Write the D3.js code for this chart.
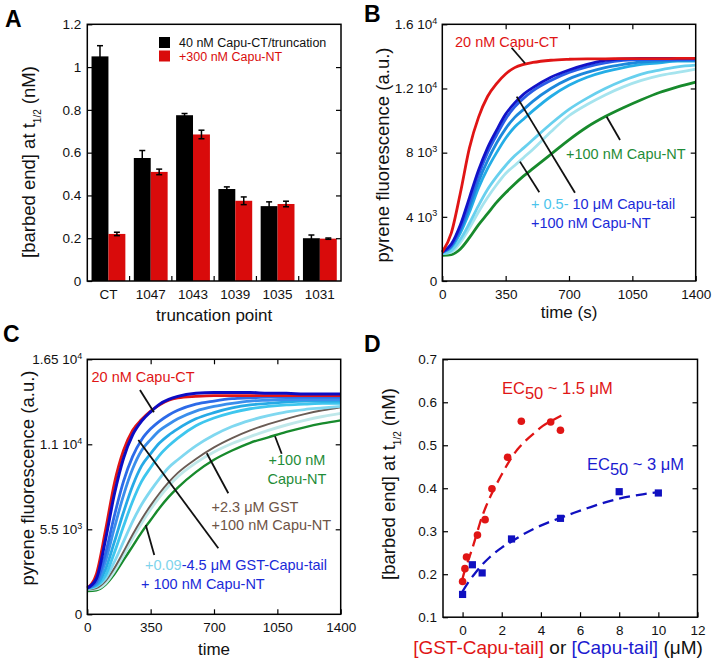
<!DOCTYPE html>
<html><head><meta charset="utf-8">
<script src="https://cdn.jsdelivr.net/npm/d3@7"></script>
<style>
body{margin:0;background:#fff}
svg text{font-family:"Liberation Sans",Arial,Helvetica,sans-serif}
</style>
</head><body>
<svg id="c" width="712" height="659"></svg>
<script>
// ---------------- DATA ----------------
// Panel A
const truncations = ["CT","1047","1043","1039","1035","1031"];
const ctValues  = [1.05, 0.575, 0.775, 0.43, 0.35, 0.20];
const ctErrors  = [0.05, 0.035, 0.008, 0.010, 0.020, 0.015];
const ntValues  = [0.22, 0.51, 0.685, 0.375, 0.36, 0.198];
const ntErrors  = [0.008, 0.013, 0.020, 0.018, 0.013, 0.003];
const yTicksA = [0,0.2,0.4,0.6,0.8,1,1.2];
const yTickLabelsA = ["0","0.2","0.4","0.6","0.8","1","1.2"];

// Panel B (time in s, pyrene fluorescence a.u.)
const timeB = [0,50,100,150,200,250,300,350,400,450,500,600,700,800,900,1000,1100,1200,1300,1400];
const redB    = [1800,3000,5500,8300,10200,11500,12300,12900,13300,13500,13620,13760,13820,13850,13850,13860,13860,13860,13870,13880];
const tail10B = [1800,2300,3500,5200,6900,8300,9400,10400,11100,11650,12050,12700,13150,13500,13750,13850,13880,13880,13880,13880];
const tail6B  = [1800,2200,3300,4900,6600,8000,9100,10100,10850,11400,11850,12500,13000,13350,13600,13750,13800,13800,13800,13800];
const tail4B  = [1800,2200,3200,4600,6200,7500,8600,9500,10200,10700,11200,12000,12600,13000,13300,13500,13650,13700,13750,13750];
const tail2B  = [1800,2100,3000,4300,5800,7000,8000,8900,9600,10100,10600,11500,12200,12700,13050,13300,13500,13600,13700,13700];
const tail1B  = [1700,1900,2600,3600,4700,5700,6500,7200,7800,8300,8800,9800,10700,11400,12000,12500,12900,13150,13350,13450];
const tail05B = [1700,1800,2400,3300,4300,5200,6000,6700,7200,7700,8200,9300,10300,11000,11600,12100,12500,12800,13000,13200];
const greenB  = [1600,1650,2000,2700,3500,4200,4900,5500,6050,6550,7000,7900,8800,9600,10250,10800,11300,11750,12100,12400];
const yTicksB = [0,4000,8000,12000,16000];
const yTickLabelsB = [["0",""],["4 10","3"],["8 10","3"],["1.2 10","4"],["1.6 10","4"]];
const xTicksTime = [0,350,700,1050,1400];

// Panel C
const timeC = [0,50,100,150,200,250,300,350,400,450,500,600,700,800,900,1000,1100,1200,1300,1400];
const redC    = [1700,2600,5400,8500,10600,11900,12600,13150,13550,13850,14000,14100,14150,14150,14150,14150,14150,14150,14150,14150];
const gst45C  = [1700,2300,4800,7800,10100,11600,12500,13100,13600,13900,14100,14300,14350,14350,14350,14300,14300,14250,14250,14250];
const gst2C   = [1700,2100,3900,6400,8600,10200,11300,12000,12500,12900,13200,13600,13800,13950,14000,14050,14050,14050,14050,14050];
const gst1C   = [1700,2000,3400,5600,7700,9400,10600,11300,11900,12300,12650,13150,13450,13650,13800,13850,13900,13900,13900,13900];
const gst05C  = [1700,1900,2900,4700,6600,8300,9600,10400,11100,11600,12000,12650,13050,13350,13550,13650,13750,13800,13800,13800];
const gst03C  = [1700,1850,2500,4000,5700,7300,8600,9500,10300,10900,11400,12200,12700,13050,13300,13450,13550,13600,13650,13650];
const gst02C  = [1650,1800,2300,3400,4700,6000,7100,8000,8800,9500,10000,10900,11600,12150,12550,12850,13100,13250,13350,13450];
const gstOnlyC= [1600,1700,2150,3000,4050,5150,6150,7050,7850,8550,9150,10050,10800,11400,11900,12300,12650,12950,13200,13400];
const gst009C = [1600,1650,2000,2800,3800,4900,5900,6800,7600,8300,8900,9800,10500,11050,11500,11900,12250,12550,12800,13000];
const greenC  = [1500,1550,1900,2600,3500,4400,5300,6100,6900,7600,8200,9200,10000,10600,11100,11450,11800,12100,12350,12550];
const yTicksC = [0,5500,11000,16500];
const yTickLabelsC = [["0",""],["5.5 10","3"],["1.1 10","4"],["1.65 10","4"]];

// Panel D
const gstTailConc = [0,0.12,0.2,0.76,1.15,1.5,2.3,3,4.5,5];
const gstTailBE   = [0.183,0.213,0.240,0.291,0.327,0.399,0.472,0.556,0.554,0.535];
const tailConc = [0,0.5,1,2.5,5,8,10];
const tailBE   = [0.153,0.222,0.203,0.282,0.330,0.392,0.389];
const redFitX = [0,0.12,0.25,0.46,0.7,0.88,1.2,1.56,2,2.32,2.8,3.25,3.7,4.1,4.6,5.04];
const redFitY = [0.19,0.21,0.227,0.255,0.29,0.318,0.358,0.394,0.432,0.458,0.49,0.512,0.53,0.545,0.558,0.569];
const blueFitX = [0,0.3,0.6,1,1.4,2,2.5,3,3.7,4.3,5,5.7,6.4,7.2,8,9.2,10];
const blueFitY = [0.16,0.182,0.2,0.222,0.24,0.262,0.276,0.29,0.307,0.319,0.331,0.343,0.354,0.366,0.376,0.386,0.391];
const yTicksD = [0.1,0.2,0.3,0.4,0.5,0.6,0.7];
const yTickLabelsD = ["0.1","0.2","0.3","0.4","0.5","0.6","0.7"];
const xTicksD = [0,2,4,6,8,10,12];
const xTickLabelsD = ["0","2","4","6","8","10","12"];

// ---------------- DRAW ----------------
const svg = d3.select("#c");
const TICK = 5, TFS = "13.5px";

function clean(g){ g.select(".domain").remove(); g.selectAll("text").attr("font-size",TFS).attr("fill","#111").attr("font-family",null); g.selectAll(".tick line").attr("stroke","#000").attr("stroke-width",1.2); }
function frame(x0,x1,y0,y1){ svg.append("rect").attr("x",x0).attr("y",y0).attr("width",x1-x0).attr("height",y1-y0).attr("fill","none").attr("stroke","#000").attr("stroke-width",1.5); }
function supTicks(g, labels){
  g.selectAll(".tick text").each(function(d,i){
    const t = d3.select(this); t.text(null);
    t.append("tspan").text(labels[i][0]);
    if(labels[i][1]) t.append("tspan").attr("dy","-0.6em").attr("font-size","9px").text(labels[i][1]);
  });
}
function ylabel(x, cy, parts){
  const t = svg.append("text").attr("transform",`translate(${x},${cy}) rotate(-90)`).attr("text-anchor","middle").attr("font-size","18.5px").attr("fill","#111");
  parts.forEach(p=>{ const s=t.append("tspan").text(p.t); if(p.fs) s.attr("font-size",p.fs); if(p.dy) s.attr("dy",p.dy); if(p.fill) s.attr("fill",p.fill); });
}
function letter(s,x,y){ svg.append("text").attr("x",x).attr("y",y).attr("font-size","23px").attr("font-weight","bold").text(s); }
function ptr(x1,y1,x2,y2){ svg.append("line").attr("x1",x1).attr("y1",y1).attr("x2",x2).attr("y2",y2).attr("stroke","#111").attr("stroke-width",1.8); }
function label(x,y,parts,fs,anchor){
  const t = svg.append("text").attr("x",x).attr("y",y).attr("font-size",fs||"14.5px").attr("text-anchor",anchor||"start");
  parts.forEach(p=>{ const s=t.append("tspan").text(p.t).attr("fill",p.fill||"#111"); if(p.fs) s.attr("font-size",p.fs); if(p.dy) s.attr("dy",p.dy); });
  return t;
}
const beLabel = [{t:"[barbed end] at t"},{t:"1/2",fs:"10px",dy:"6"},{t:" (nM)",dy:"-6"}];

// ===== Panel A =====
{
  const L=87.3,R=341,T=24.3,B=281;
  const y = d3.scaleLinear().domain([0,1.2]).range([B,T]);
  const x = d3.scaleBand().domain(truncations).range([L,R]).padding(0);
  const sub = d3.scaleBand().domain(["ct","nt"]).range([0,x.bandwidth()]).paddingInner(0).paddingOuter(0.25);
  const rows = truncations.map((c,i)=>({c, ct:ctValues[i], cte:ctErrors[i], nt:ntValues[i], nte:ntErrors[i]}));
  const g = svg.append("g");
  rows.forEach(r=>{
    [["ct",r.ct,r.cte,"#000"],["nt",r.nt,r.nte,"#d90b0b"]].forEach(([k,v,e,col])=>{
      const bx = x(r.c)+sub(k), bw = sub.bandwidth(), cx = bx+bw/2;
      g.append("rect").attr("x",bx).attr("y",y(v)).attr("width",bw).attr("height",y(0)-y(v)).attr("fill",col);
      g.append("line").attr("x1",cx).attr("x2",cx).attr("y1",y(v-e)).attr("y2",y(v+e)).attr("stroke","#000").attr("stroke-width",1.5);
      [v-e,v+e].forEach(ev=>g.append("line").attr("x1",cx-3).attr("x2",cx+3).attr("y1",y(ev)).attr("y2",y(ev)).attr("stroke","#000").attr("stroke-width",1.5));
    });
  });
  const ax = svg.append("g").attr("transform",`translate(${L},0)`).call(d3.axisLeft(y).tickValues(yTicksA).tickFormat((d,i)=>yTickLabelsA[i]).tickSize(-TICK).tickSizeOuter(0).tickPadding(6)); clean(ax);
  const ar = svg.append("g").attr("transform",`translate(${R},0)`).call(d3.axisRight(y).tickValues(yTicksA.slice(1,-1)).tickFormat("").tickSize(-TICK).tickSizeOuter(0)); clean(ar);
  const ab = svg.append("g").attr("transform",`translate(0,${B})`).call(d3.axisBottom(x).tickSize(0).tickPadding(8)); clean(ab);
  truncations.slice(1).forEach(c=>svg.append("line").attr("x1",x(c)).attr("x2",x(c)).attr("y1",B).attr("y2",B-TICK).attr("stroke","#000").attr("stroke-width",1.2));
  frame(L,R,T,B);
  svg.append("rect").attr("x",159).attr("y",37).attr("width",11).attr("height",11).attr("fill","#000");
  svg.append("rect").attr("x",159).attr("y",50.5).attr("width",11).attr("height",11).attr("fill","#d90b0b");
  label(179,46.5,[{t:"40 nM Capu-CT/truncation"}],"12.5px");
  label(179,61,[{t:"+300 nM Capu-NT",fill:"#d90b0b"}],"12.5px");
  svg.append("text").attr("x",(L+R)/2).attr("y",321).attr("text-anchor","middle").attr("font-size","17px").attr("fill","#111").text("truncation point");
  ylabel(35,162,beLabel);
  letter("A",5,27);
}

// ===== Panel B =====
{
  const L=442.3,R=695.7,T=24.3,B=281;
  const x = d3.scaleLinear().domain([0,1400]).range([L,R]);
  const y = d3.scaleLinear().domain([0,16000]).range([B,T]);
  const line = d3.line().x((d,i)=>x(timeB[i])).y(d=>y(d)).curve(d3.curveMonotoneX);
  const series = [[greenB,"#178a2c"],[tail05B,"#a6e4ee"],[tail1B,"#68d0ee"],[tail2B,"#24ade6"],[tail4B,"#1c88dc"],[tail6B,"#2a5ce6"],[tail10B,"#1212c8"],[redB,"#e01515"]];
  series.forEach(([s,c])=>svg.append("path").attr("d",line(s)).attr("fill","none").attr("stroke",c).attr("stroke-width",2.8));
  const ax = svg.append("g").attr("transform",`translate(${L},0)`).call(d3.axisLeft(y).tickValues(yTicksB).tickSize(-TICK).tickSizeOuter(0).tickPadding(5)); clean(ax); supTicks(ax,yTickLabelsB);
  const ar = svg.append("g").attr("transform",`translate(${R},0)`).call(d3.axisRight(y).tickValues(yTicksB.slice(1,-1)).tickFormat("").tickSize(-TICK).tickSizeOuter(0)); clean(ar);
  const ab = svg.append("g").attr("transform",`translate(0,${B})`).call(d3.axisBottom(x).tickValues(xTicksTime).tickFormat(d3.format("d")).tickSize(-TICK).tickSizeOuter(0).tickPadding(8)); clean(ab);
  const at = svg.append("g").attr("transform",`translate(0,${T})`).call(d3.axisTop(x).tickValues(xTicksTime.slice(1,-1)).tickFormat("").tickSize(-TICK).tickSizeOuter(0)); clean(at);
  frame(L,R,T,B);
  ptr(x(383),y(14540),x(457),y(13570));
  ptr(x(908),y(10240),x(982),y(8790));
  ptr(x(411),y(11490),x(733),y(5500));
  ptr(x(429),y(7440),x(536),y(5530));
  label(455,47,[{t:"20 nM Capu-CT",fill:"#e01515"}]);
  label(566,158.5,[{t:"+100 nM Capu-NT",fill:"#1f8c38"}]);
  label(531,208.5,[{t:"+ 0.5-",fill:"#4cc4ec"},{t:" 10 μM Capu-tail",fill:"#1a2ad8"}]);
  label(531,227.5,[{t:"+100 nM Capu-NT",fill:"#1a2ad8"}]);
  svg.append("text").attr("x",(L+R)/2).attr("y",318).attr("text-anchor","middle").attr("font-size","17px").attr("fill","#111").text("time (s)");
  ylabel(389,155,[{t:"pyrene fluorescence (a.u.)"}]);
  letter("B",364,22);
}

// ===== Panel C =====
{
  const L=87.3,R=340.7,T=359.3,B=614.3;
  const x = d3.scaleLinear().domain([0,1400]).range([L,R]);
  const y = d3.scaleLinear().domain([0,16500]).range([B,T]);
  const line = d3.line().x((d,i)=>x(timeC[i])).y(d=>y(d)).curve(d3.curveMonotoneX);
  const series = [[greenC,"#178a2c",2.4],[gst009C,"#bfe8ea",2.9],[gstOnlyC,"#6a5c55",1.9],[gst02C,"#80d8f0",2.8],[gst03C,"#3ec6ee",2.8],[gst05C,"#26aae6",2.8],[gst1C,"#3a8eec",2.8],[gst2C,"#2c6ae8",2.8],[redC,"#e01515",2.8],[gst45C,"#0c0cc4",3]];
  series.forEach(([s,c,w])=>svg.append("path").attr("d",line(s)).attr("fill","none").attr("stroke",c).attr("stroke-width",w));
  const ax = svg.append("g").attr("transform",`translate(${L},0)`).call(d3.axisLeft(y).tickValues(yTicksC).tickSize(-TICK).tickSizeOuter(0).tickPadding(5)); clean(ax); supTicks(ax,yTickLabelsC);
  const ar = svg.append("g").attr("transform",`translate(${R},0)`).call(d3.axisRight(y).tickValues(yTicksC.slice(1,-1)).tickFormat("").tickSize(-TICK).tickSizeOuter(0)); clean(ar);
  const ab = svg.append("g").attr("transform",`translate(0,${B})`).call(d3.axisBottom(x).tickValues(xTicksTime).tickFormat(d3.format("d")).tickSize(-TICK).tickSizeOuter(0).tickPadding(8)); clean(ab);
  const at = svg.append("g").attr("transform",`translate(0,${T})`).call(d3.axisTop(x).tickValues(xTicksTime.slice(1,-1)).tickFormat("").tickSize(-TICK).tickSizeOuter(0)); clean(at);
  frame(L,R,T,B);
  ptr(x(291),y(14520),x(368),y(13070));
  ptr(x(282),y(11280),x(724),y(4270));
  ptr(x(323),y(5780),x(370),y(3840));
  ptr(x(660),y(10420),x(779),y(7830));
  ptr(x(1037),y(11520),x(1074),y(10390));
  label(91.5,382,[{t:"20 nM Capu-CT",fill:"#e01515"}]);
  label(297,465,[{t:"+100 nM",fill:"#1f8c38"}],"14.5px","middle");
  label(297,483.5,[{t:"Capu-NT",fill:"#1f8c38"}],"14.5px","middle");
  label(211.5,512,[{t:"+2.3 μM GST",fill:"#6e5446"}]);
  label(211.5,530,[{t:"+100 nM Capu-NT",fill:"#6e5446"}]);
  label(145,570,[{t:"+0.09",fill:"#7fd4ec"},{t:"-4.5 μM GST-Capu-tail",fill:"#1a2ad8"}]);
  label(141,588.5,[{t:"+ 100 nM Capu-NT",fill:"#1a2ad8"}]);
  svg.append("text").attr("x",(L+R)/2).attr("y",655).attr("text-anchor","middle").attr("font-size","17px").attr("fill","#111").text("time");
  ylabel(34,478,[{t:"pyrene fluorescence (a.u.)"}]);
  letter("C",3,342);
}

// ===== Panel D =====
{
  const L=443,R=697.5,T=359.3,B=617.2;
  const x = d3.scaleLinear().domain([-1,12]).range([L,R]);
  const y = d3.scaleLinear().domain([0.1,0.7]).range([B,T]);
  const line = d3.line().x(d=>x(d[0])).y(d=>y(d[1])).curve(d3.curveMonotoneX);
  svg.append("path").attr("d",line(redFitX.map((v,i)=>[v,redFitY[i]]))).attr("fill","none").attr("stroke","#e01515").attr("stroke-width",2.3).attr("stroke-dasharray","11,6");
  svg.append("path").attr("d",line(blueFitX.map((v,i)=>[v,blueFitY[i]]))).attr("fill","none").attr("stroke","#1010c0").attr("stroke-width",2.3).attr("stroke-dasharray","11,6");
  gstTailConc.forEach((c,i)=>svg.append("circle").attr("cx",x(c)).attr("cy",y(gstTailBE[i])).attr("r",3.8).attr("fill","#e01515"));
  tailConc.forEach((c,i)=>svg.append("rect").attr("x",x(c)-3.6).attr("y",y(tailBE[i])-3.6).attr("width",7.2).attr("height",7.2).attr("fill","#1010c0"));
  const ax = svg.append("g").attr("transform",`translate(${L},0)`).call(d3.axisLeft(y).tickValues(yTicksD).tickFormat((d,i)=>yTickLabelsD[i]).tickSize(-TICK).tickSizeOuter(0).tickPadding(6)); clean(ax);
  const ar = svg.append("g").attr("transform",`translate(${R},0)`).call(d3.axisRight(y).tickValues(yTicksD.slice(1,-1)).tickFormat("").tickSize(-TICK).tickSizeOuter(0)); clean(ar);
  const ab = svg.append("g").attr("transform",`translate(0,${B})`).call(d3.axisBottom(x).tickValues(xTicksD).tickFormat((d,i)=>xTickLabelsD[i]).tickSize(-TICK).tickSizeOuter(0).tickPadding(8)); clean(ab);
  frame(L,R,T,B);
  label(502,393.5,[{t:"EC",fill:"#e01515"},{t:"50",fill:"#e01515",dy:"5"},{t:" ~ 1.5 μM",fill:"#e01515",dy:"-5"}],"16.5px");
  label(587,470,[{t:"EC",fill:"#1a1ad0"},{t:"50",fill:"#1a1ad0",dy:"5"},{t:" ~ 3 μM",fill:"#1a1ad0",dy:"-5"}],"16.5px");
  label(558,654,[{t:"[GST-Capu-tail]",fill:"#e01515"},{t:" or "},{t:"[Capu-tail]",fill:"#1a1ad0"},{t:" (μM)"}],"19px","middle");
  ylabel(395,484,beLabel);
  letter("D",364,352);
}
</script>
</body></html>
